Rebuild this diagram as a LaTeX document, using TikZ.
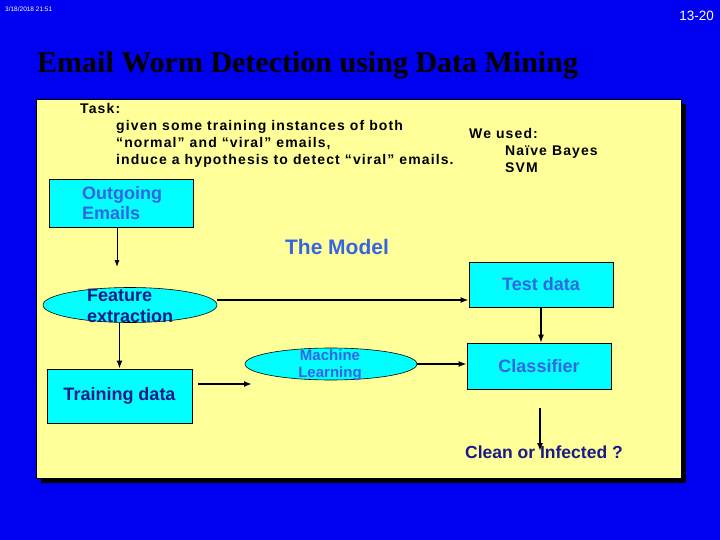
\documentclass[tikz,border=0pt]{standalone}
\usepackage{fontspec}
\setmainfont{Liberation Sans}
\newfontfamily\titlefont{Liberation Serif}
\newfontfamily\spacedfont[LetterSpace=8]{Liberation Sans}
\usetikzlibrary{arrows.meta,shapes.geometric}
\definecolor{bgblue}{RGB}{0,0,240}
\definecolor{paneyellow}{RGB}{255,255,153}
\definecolor{boxcyan}{RGB}{0,255,255}
\definecolor{midblue}{RGB}{55,100,225}
\definecolor{navytext}{RGB}{25,25,135}
\tikzset{
  box/.style={draw=black, line width=0.8pt, fill=boxcyan, rectangle, inner sep=0pt},
  oval/.style={draw=black, line width=0.6pt, fill=boxcyan, ellipse, inner sep=0pt},
  lbl/.style={font=\bfseries\fontsize{18}{20}\selectfont, inner sep=0pt, align=left},
  boxtext/.style={font=\bfseries\fontsize{18}{20}\selectfont},
  arr/.style={-{Latex[length=8pt,width=6pt]}, line width=1.6pt},
  thinarr/.style={-{Latex[length=7pt,width=5pt]}, line width=0.9pt},
  plain/.style={inner sep=0pt}
}
\begin{document}
\begin{tikzpicture}[x=1pt,y=-1pt]
\fill[bgblue] (0,0) rectangle (720,540);
\useasboundingbox (0,0) rectangle (720,540);
% panel
\fill[black] (41,104) rectangle (686,483);
\draw[fill=paneyellow, line width=0.6pt] (36,99) rectangle (681,478);
% header
\node[plain, white, anchor=west, font=\fontsize{6.5}{7}\selectfont] (date) at (5,9) {3/18/2018 21:51};
\node[plain, white, anchor=east, font=\fontsize{13.5}{15}\selectfont] (page) at (714,16) {13-20};
% title
\node[plain, anchor=west, font=\titlefont\bfseries\fontsize{30}{34}\selectfont] (title) at (37,65) {Email Worm Detection using Data Mining};
% task text
\node[plain, anchor=west, align=left, font=\spacedfont\bfseries\fontsize{14}{17}\selectfont] (task) at (80,135)
 {Task:\\\hspace*{36pt}given some training instances of both\\\hspace*{36pt}“normal” and “viral” emails,\\\hspace*{36pt}induce a hypothesis to detect “viral” emails.};
\node[plain, anchor=west, align=left, font=\spacedfont\bfseries\fontsize{14}{17}\selectfont] (used) at (469,150)
 {We used:\\\hspace*{36pt}Naïve Bayes\\\hspace*{36pt}SVM};
% nodes
\node[box, minimum width=144pt, minimum height=48pt] (out) at (121,203) {};
\node[lbl, text=midblue, anchor=west] (outt) at (82,203) {Outgoing\\Emails};
\node[plain, text=midblue, font=\bfseries\fontsize{21}{24}\selectfont] (model) at (337,247) {The Model};
\node[oval, minimum width=174pt, minimum height=35pt] (fe) at (130,305) {};
\node[lbl, text=navytext, anchor=west, font=\bfseries\fontsize{18}{21}\selectfont] (fet) at (87,306) {Feature\\extraction};
\node[box, boxtext, minimum width=145pt, minimum height=54pt, text=navytext] (train) at (119.5,396) {Training data};
\node[oval, minimum width=172pt, minimum height=32pt] (ml) at (331,364) {};
\node[plain, text=midblue, align=center, font=\bfseries\fontsize{15}{17}\selectfont] (mlt) at (330,365) {Machine\\Learning};
\node[box, boxtext, minimum width=144pt, minimum height=45pt, text=midblue] (test) at (541,284.5) {Test data};
\node[box, boxtext, minimum width=144pt, minimum height=46pt, text=midblue] (cls) at (539,366) {Classifier};
\node[plain, text=navytext, font=\bfseries\fontsize{17.5}{20}\selectfont] (clean) at (544,452) {Clean or Infected ?};
% connectors
\coordinate (a1) at (117,267);
\draw[thinarr] (out.south -| a1) -- (a1);
\draw[arr] (fe.south -| train.north) -- (train.north);
\coordinate (fs) at ([yshift=5pt]fe.east);
\draw[arr] (fs) -- (fs -| test.west);
\coordinate (t1) at (198,384);
\coordinate (t2) at (252,384);
\draw[arr] (t1) -- (t2);
\draw[arr] (ml.east) -- (ml.east -| cls.west);
\draw[arr, line width=1.2pt] (test.south) -- (test.south |- cls.north);
\coordinate (c1) at (540,408);
\coordinate (c2) at (540,451);
\draw[arr] (c1) -- (c2);
\end{tikzpicture}
\end{document}
